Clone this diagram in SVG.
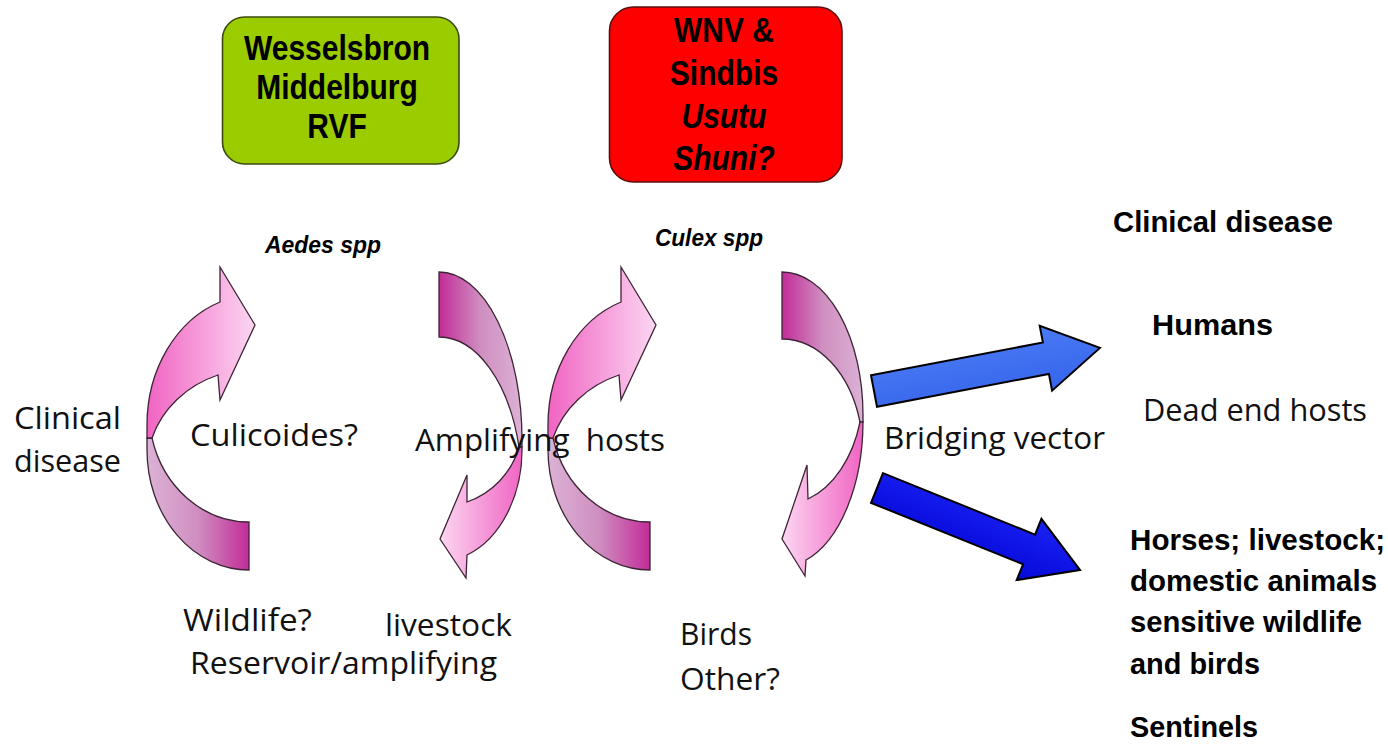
<svg xmlns="http://www.w3.org/2000/svg" width="1388" height="745" viewBox="0 0 1388 745">
<defs>
<linearGradient id="gHead" x1="0" y1="0" x2="1" y2="0">
<stop offset="0" stop-color="#f064c2"/><stop offset="1" stop-color="#fcd6f2"/>
</linearGradient>
<linearGradient id="gTail" x1="0" y1="0" x2="1" y2="0">
<stop offset="0" stop-color="#dcb2d6"/><stop offset="0.5" stop-color="#cf8ec0"/><stop offset="1" stop-color="#c22c98"/>
</linearGradient>
<linearGradient id="gHeadR" x1="1" y1="0" x2="0" y2="0">
<stop offset="0" stop-color="#f064c2"/><stop offset="1" stop-color="#fcd6f2"/>
</linearGradient>
<linearGradient id="gTailR" x1="1" y1="0" x2="0" y2="0">
<stop offset="0" stop-color="#dcb2d6"/><stop offset="0.5" stop-color="#cf8ec0"/><stop offset="1" stop-color="#c22c98"/>
</linearGradient>
<linearGradient id="gBlue1" x1="0" y1="0" x2="0" y2="1">
<stop offset="0" stop-color="#4a7af3"/><stop offset="1" stop-color="#3564ec"/>
</linearGradient>
<linearGradient id="gBlue2" x1="0" y1="0" x2="0" y2="1">
<stop offset="0" stop-color="#1a22f4"/><stop offset="1" stop-color="#0508d8"/>
</linearGradient>
<g id="cArrow">
<path fill="url(#gTail)" d="M 147,438 L 147,450 A 102 120 0 0 0 249,570 L 249,522 A 100 111 0 0 1 152,438 Z"/>
<path fill="url(#gHead)" d="M 147,438 L 147,425 A 108 130 0 0 1 220,302 L 220,267 L 255,325 L 220,400 L 218,375 A 108 99 0 0 0 152,438 Z"/>
</g>
</defs>
<style>
.cv{stroke:#3e2436;stroke-width:1.3;stroke-linejoin:miter}
.reg{font-family:"Open Sans","Liberation Sans",sans-serif;font-size:31px;fill:#111}
.bld{font-family:"Liberation Sans",Arial,sans-serif;font-weight:bold;font-size:29px;fill:#000}
.box{font-family:"Liberation Sans",Arial,sans-serif;font-weight:bold;font-size:30px;fill:#000;text-anchor:middle}
.spp{font-family:"Liberation Sans",Arial,sans-serif;font-weight:bold;font-style:italic;font-size:23px;fill:#000}
.blue{stroke:#000;stroke-width:2;stroke-linejoin:miter}
</style>
<rect width="1388" height="745" fill="#ffffff"/>

<g id="connectors">
<g id="arrow-aedes-up" class="cv"><use href="#cArrow"/></g>
<g id="arrow-aedes-down" class="cv">
<path fill="url(#gTailR)" d="M 439,272 A 83 168 0 0 1 522,440 L 522,447 L 519,447 A 83 150 0 0 0 439,337 Z"/>
<path fill="url(#gHeadR)" d="M 522,447 A 83 112 0 0 1 467,555 L 466,578 L 440,539 L 467,475 L 467,502 A 83 81.5 0 0 0 519,447 Z"/>
</g>
<g id="arrow-culex-up" class="cv" transform="translate(401,0)"><use href="#cArrow"/></g>
<g id="arrow-culex-down" class="cv">
<path fill="url(#gTailR)" d="M 782,272 A 81 143 0 0 1 863,415 L 863,422 L 860,422 A 81 114 0 0 0 782,339 Z"/>
<path fill="url(#gHeadR)" d="M 863,422 A 81 145 0 0 1 806,560 L 805,576 L 782,539 L 807,465 L 808,499 A 81 114 0 0 0 860,422 Z"/>
</g>
<g id="arrow-humans" class="blue" transform="translate(874,391) rotate(-10.8)">
<path fill="url(#gBlue1)" d="M 0,-16 L 175,-16 L 175,-33 L 230,0 L 175,33 L 175,16 L 0,16 Z"/>
</g>
<g id="arrow-horses" class="blue" transform="translate(877,488) rotate(22)">
<path fill="url(#gBlue2)" d="M 0,-16 L 164,-16 L 164,-33 L 219,0 L 164,33 L 164,16 L 0,16 Z"/>
</g>
</g>

<g id="node-green">
<rect x="222.5" y="17" width="236.5" height="147" rx="22" ry="22" fill="#9acc00" stroke="#3c4a12" stroke-width="1.6"/>
<text class="box" transform="translate(337 60) scale(1 1.15)">Wesselsbron</text>
<text class="box" transform="translate(337 99) scale(1 1.15)">Middelburg</text>
<text class="box" transform="translate(337 138) scale(1 1.15)">RVF</text>
</g>

<g id="node-red">
<rect x="609.5" y="7" width="232.5" height="175" rx="24" ry="24" fill="#ff0000" stroke="#5a1010" stroke-width="1.6"/>
<text class="box" transform="translate(724 42) scale(1 1.15)">WNV &amp;</text>
<text class="box" transform="translate(724 85) scale(1 1.15)">Sindbis</text>
<text class="box" font-style="italic" transform="translate(724 128) scale(1 1.15)">Usutu</text>
<text class="box" font-style="italic" transform="translate(724 170) scale(1 1.15)">Shuni?</text>
</g>

<g id="label-aedes"><text class="spp" x="265" y="253" textLength="116" lengthAdjust="spacingAndGlyphs">Aedes spp</text></g>
<g id="label-culex"><text class="spp" x="655" y="246" textLength="108" lengthAdjust="spacingAndGlyphs">Culex spp</text></g>

<g id="label-clinical-left">
<text class="reg" x="14" y="429" textLength="107" lengthAdjust="spacingAndGlyphs">Clinical</text>
<text class="reg" x="14" y="472" textLength="107" lengthAdjust="spacingAndGlyphs">disease</text>
</g>
<g id="label-culicoides"><text class="reg" x="190" y="446" textLength="168" lengthAdjust="spacingAndGlyphs">Culicoides?</text></g>
<g id="label-amplifying"><text class="reg" x="415" y="451" textLength="250" lengthAdjust="spacingAndGlyphs" xml:space="preserve">Amplifying  hosts</text></g>
<g id="label-bridging"><text class="reg" x="884" y="449" textLength="221" lengthAdjust="spacingAndGlyphs">Bridging vector</text></g>
<g id="label-wildlife">
<text class="reg" x="183" y="631" textLength="129" lengthAdjust="spacingAndGlyphs">Wildlife?</text>
<text class="reg" x="190" y="674" textLength="307" lengthAdjust="spacingAndGlyphs">Reservoir/amplifying</text>
</g>
<g id="label-livestock"><text class="reg" x="385" y="636" textLength="127" lengthAdjust="spacingAndGlyphs">livestock</text></g>
<g id="label-birds">
<text class="reg" x="680" y="645" textLength="72" lengthAdjust="spacingAndGlyphs">Birds</text>
<text class="reg" x="680" y="690" textLength="100" lengthAdjust="spacingAndGlyphs">Other?</text>
</g>

<g id="node-clinical-right"><text class="bld" x="1113" y="232" textLength="220" lengthAdjust="spacingAndGlyphs">Clinical disease</text></g>
<g id="node-humans">
<text class="bld" x="1152" y="335" textLength="121" lengthAdjust="spacingAndGlyphs">Humans</text>
<text class="reg" x="1143" y="421" textLength="224" lengthAdjust="spacingAndGlyphs">Dead end hosts</text>
</g>
<g id="node-horses">
<text class="bld" x="1130" y="550" textLength="255" lengthAdjust="spacingAndGlyphs">Horses; livestock;</text>
<text class="bld" x="1130" y="591" textLength="247" lengthAdjust="spacingAndGlyphs">domestic animals</text>
<text class="bld" x="1130" y="632" textLength="232" lengthAdjust="spacingAndGlyphs">sensitive wildlife</text>
<text class="bld" x="1130" y="674" textLength="130" lengthAdjust="spacingAndGlyphs">and birds</text>
<text class="bld" x="1130" y="737" textLength="128" lengthAdjust="spacingAndGlyphs">Sentinels</text>
</g>
</svg>
